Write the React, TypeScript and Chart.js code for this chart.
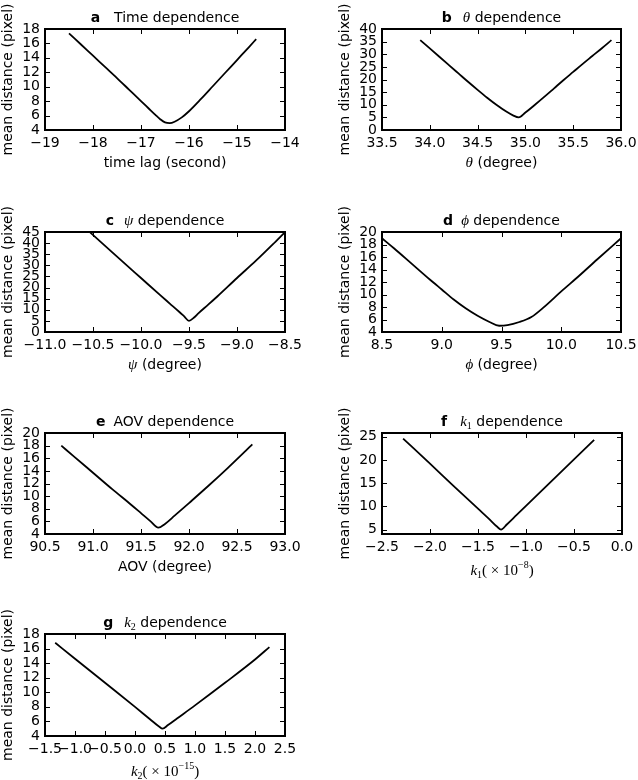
import React, { useEffect, useRef } from "react";
import { Chart, registerables } from "chart.js";

Chart.register(...registerables);

// ---------------- data ----------------
// a: time dependence
const timeLag = [-18.5, -18.25, -18.0, -17.75, -17.5, -17.25, -17.0, -16.85, -16.7, -16.6, -16.5, -16.4, -16.3, -16.15, -16.0, -15.75, -15.5, -15.25, -15.0, -14.75, -14.6];
const timeDist = [17.4, 15.85, 14.3, 12.75, 11.2, 9.6, 8.0, 7.05, 6.1, 5.5, 5.05, 4.95, 5.15, 5.75, 6.6, 8.3, 10.1, 11.9, 13.7, 15.5, 16.6];
const timeTicksX = [-19, -18, -17, -16, -15, -14];
const timeTicksY = [4, 6, 8, 10, 12, 14, 16, 18];

// b: theta dependence
const thetaDeg = [33.9, 34.0, 34.1, 34.2, 34.3, 34.4, 34.5, 34.6, 34.7, 34.8, 34.87, 34.93, 35.0, 35.1, 35.2, 35.3, 35.4, 35.5, 35.6, 35.7, 35.8, 35.9];
const thetaDist = [35.6, 32.3, 29.0, 25.7, 22.4, 19.1, 15.9, 12.8, 9.9, 7.3, 5.8, 5.0, 6.9, 10.0, 13.2, 16.5, 19.8, 23.0, 26.2, 29.3, 32.4, 35.6];
const thetaTicksX = [33.5, 34.0, 34.5, 35.0, 35.5, 36.0];
const thetaTicksY = [0, 5, 10, 15, 20, 25, 30, 35, 40];

// c: psi dependence
const psiDeg = [-10.53, -10.4, -10.2, -10.0, -9.8, -9.7, -9.6, -9.55, -9.5, -9.45, -9.4, -9.3, -9.2, -9.0, -8.8, -8.6, -8.5];
const psiDist = [44.8, 39.8, 32.0, 24.3, 16.6, 12.8, 9.0, 7.0, 5.0, 6.4, 8.5, 12.3, 16.2, 24.3, 32.2, 40.6, 44.9];
const psiTicksX = [-11.0, -10.5, -10.0, -9.5, -9.0, -8.5];
const psiTicksY = [0, 5, 10, 15, 20, 25, 30, 35, 40, 45];

// d: phi dependence
const phiDeg = [8.5, 8.6, 8.75, 8.9, 9.0, 9.1, 9.2, 9.3, 9.4, 9.48, 9.55, 9.65, 9.75, 9.85, 10.0, 10.15, 10.3, 10.5];
const phiDist = [19.0, 17.4, 14.9, 12.4, 10.8, 9.2, 7.8, 6.6, 5.6, 5.0, 5.1, 5.6, 6.4, 7.9, 10.5, 13.0, 15.6, 19.0];
const phiTicksX = [8.5, 9.0, 9.5, 10.0, 10.5];
const phiTicksY = [4, 6, 8, 10, 12, 14, 16, 18, 20];

// e: AOV dependence
const aovDeg = [90.67, 90.8, 91.0, 91.2, 91.4, 91.5, 91.6, 91.68, 91.75, 91.85, 92.0, 92.2, 92.4, 92.66];
const aovDist = [18.0, 16.3, 13.7, 11.1, 8.6, 7.3, 6.0, 5.0, 5.6, 6.9, 8.9, 11.6, 14.4, 18.2];
const aovTicksX = [90.5, 91.0, 91.5, 92.0, 92.5, 93.0];
const aovTicksY = [4, 6, 8, 10, 12, 14, 16, 18, 20];

// f: k1 dependence
const k1Val = [-2.28, -2.0, -1.75, -1.5, -1.38, -1.3, -1.26, -1.2, -1.1, -1.0, -0.75, -0.5, -0.29];
const k1Dist = [24.6, 19.2, 14.3, 9.5, 7.2, 5.6, 5.0, 6.1, 8.1, 10.1, 15.1, 20.1, 24.3];
const k1TicksX = [-2.5, -2.0, -1.5, -1.0, -0.5, 0.0];
const k1TicksY = [5, 10, 15, 20, 25];

// g: k2 dependence
const k2Val = [-1.33, -1.0, -0.5, 0.0, 0.25, 0.4, 0.46, 0.55, 0.7, 1.0, 1.5, 2.0, 2.24];
const k2Dist = [16.8, 14.6, 11.3, 8.0, 6.3, 5.3, 5.0, 5.5, 6.4, 8.2, 11.3, 14.5, 16.2];
const k2TicksX = [-1.5, -1.0, -0.5, 0.0, 0.5, 1.0, 1.5, 2.0, 2.5];
const k2TicksY = [4, 6, 8, 10, 12, 14, 16, 18];

const yAxisLabel = "mean distance (pixel)";

// ---------------- styling ----------------
type Seg = { t: string; font: string; dy?: number; gap?: number };
const SANS = (s = 14) => `normal ${s}px "DejaVu Sans"`;
const BOLD = (s = 14) => `bold ${s}px "DejaVu Sans"`;
const MATH = (s = 15) => `italic ${s}px "Liberation Serif"`;
const MATHR = (s = 15) => `normal ${s}px "Liberation Serif"`;

const YW = 40; // y axis box width
const XH = 20; // x axis box height
const TICK_LEN = 5;

type Panel = {
  cell: { left: number; top: number; w: number; h: number };
  plot: { l: number; t: number; r: number; b: number };
  xs: number[];
  ys: number[];
  xMin: number; xMax: number; yMin: number; yMax: number;
  xTicks: number[]; yTicks: number[];
  xDec: number;
  title: Seg[];
  xLabel: Seg[];
  xLabelBase: number;
};

const fmt = (v: number, dec: number) => {
  const s = Math.abs(v) < 1e-9 ? (0).toFixed(dec) : v.toFixed(dec);
  return s.replace("-", "\u2212");
};

const panels: Panel[] = [
  {
    cell: { left: 0, top: 0, w: 319, h: 200 },
    plot: { l: 45, t: 29, r: 285, b: 130 },
    xs: timeLag, ys: timeDist, xMin: -19, xMax: -14, yMin: 4, yMax: 18,
    xTicks: timeTicksX, yTicks: timeTicksY, xDec: 0,
    title: [{ t: "a", font: BOLD() }, { t: "Time dependence", font: SANS(), gap: 14 }],
    xLabel: [{ t: "time lag (second)", font: SANS() }],
    xLabelBase: 37,
  },
  {
    cell: { left: 319, top: 0, w: 319, h: 200 },
    plot: { l: 382, t: 29, r: 621, b: 130 },
    xs: thetaDeg, ys: thetaDist, xMin: 33.5, xMax: 36.0, yMin: 0, yMax: 40,
    xTicks: thetaTicksX, yTicks: thetaTicksY, xDec: 1,
    title: [{ t: "b", font: BOLD() }, { t: "\u03b8", font: MATH(), gap: 11 }, { t: " dependence", font: SANS() }],
    xLabel: [{ t: "\u03b8", font: MATH() }, { t: " (degree)", font: SANS() }],
    xLabelBase: 37,
  },
  {
    cell: { left: 0, top: 200, w: 319, h: 200 },
    plot: { l: 45, t: 232, r: 285, b: 332 },
    xs: psiDeg, ys: psiDist, xMin: -11.0, xMax: -8.5, yMin: 0, yMax: 45,
    xTicks: psiTicksX, yTicks: psiTicksY, xDec: 1,
    title: [{ t: "c", font: BOLD() }, { t: "\u03c8", font: MATH(), gap: 10 }, { t: " dependence", font: SANS() }],
    xLabel: [{ t: "\u03c8", font: MATH() }, { t: " (degree)", font: SANS() }],
    xLabelBase: 37,
  },
  {
    cell: { left: 319, top: 200, w: 319, h: 200 },
    plot: { l: 382, t: 232, r: 621, b: 332 },
    xs: phiDeg, ys: phiDist, xMin: 8.5, xMax: 10.5, yMin: 4, yMax: 20,
    xTicks: phiTicksX, yTicks: phiTicksY, xDec: 1,
    title: [{ t: "d", font: BOLD() }, { t: "\u03d5", font: MATH(), gap: 8 }, { t: " dependence", font: SANS() }],
    xLabel: [{ t: "\u03d5", font: MATH() }, { t: " (degree)", font: SANS() }],
    xLabelBase: 37,
  },
  {
    cell: { left: 0, top: 400, w: 319, h: 200 },
    plot: { l: 45, t: 433, r: 285, b: 534 },
    xs: aovDeg, ys: aovDist, xMin: 90.5, xMax: 93.0, yMin: 4, yMax: 20,
    xTicks: aovTicksX, yTicks: aovTicksY, xDec: 1,
    title: [{ t: "e", font: BOLD() }, { t: "AOV dependence", font: SANS(), gap: 8 }],
    xLabel: [{ t: "AOV (degree)", font: SANS() }],
    xLabelBase: 37,
  },
  {
    cell: { left: 319, top: 400, w: 319, h: 200 },
    plot: { l: 382, t: 433, r: 622, b: 534 },
    xs: k1Val, ys: k1Dist, xMin: -2.5, xMax: 0.0, yMin: 4.05, yMax: 25.8,
    xTicks: k1TicksX, yTicks: k1TicksY, xDec: 1,
    title: [
      { t: "f", font: BOLD() },
      { t: "k", font: MATH(), gap: 13 },
      { t: "1", font: MATHR(10), dy: 3 },
      { t: " dependence", font: SANS() },
    ],
    xLabel: [
      { t: "k", font: MATH() },
      { t: "1", font: MATHR(10), dy: 3 },
      { t: "( \u00d7 10", font: MATHR() },
      { t: "\u22128", font: MATHR(10), dy: -7 },
      { t: ")", font: MATHR() },
    ],
    xLabelBase: 41,
  },
  {
    cell: { left: 0, top: 600, w: 319, h: 180 },
    plot: { l: 45, t: 634, r: 285, b: 736 },
    xs: k2Val, ys: k2Dist, xMin: -1.5, xMax: 2.5, yMin: 4, yMax: 18,
    xTicks: k2TicksX, yTicks: k2TicksY, xDec: 1,
    title: [
      { t: "g", font: BOLD() },
      { t: "k", font: MATH(), gap: 11 },
      { t: "2", font: MATHR(10), dy: 3 },
      { t: " dependence", font: SANS() },
    ],
    xLabel: [
      { t: "k", font: MATH() },
      { t: "2", font: MATHR(10), dy: 3 },
      { t: "( \u00d7 10", font: MATHR() },
      { t: "\u221215", font: MATHR(10), dy: -7 },
      { t: ")", font: MATHR() },
    ],
    xLabelBase: 40,
  },
];

function drawSegs(ctx: CanvasRenderingContext2D, segs: Seg[], cx: number, base: number) {
  let total = 0;
  const widths = segs.map((s) => {
    ctx.font = s.font;
    const w = ctx.measureText(s.t).width;
    total += w + (s.gap || 0);
    return w;
  });
  let x = cx - total / 2;
  ctx.textAlign = "left";
  ctx.textBaseline = "alphabetic";
  segs.forEach((s, i) => {
    x += s.gap || 0;
    ctx.font = s.font;
    ctx.fillText(s.t, x, base + (s.dy || 0));
    x += widths[i];
  });
}

function makeDeco(p: Panel) {
  return {
    id: "mplDeco",
    afterDraw(chart: any) {
      const ctx: CanvasRenderingContext2D = chart.ctx;
      const ca = chart.chartArea;
      const xs = chart.scales.x;
      const ys = chart.scales.y;
      ctx.save();
      ctx.strokeStyle = "#000";
      ctx.fillStyle = "#000";
      ctx.lineWidth = 1;
      ctx.beginPath();
      for (const t of xs.ticks) {
        const px = Math.round(xs.getPixelForValue(t.value)) + 0.5;
        ctx.moveTo(px, ca.bottom);
        ctx.lineTo(px, ca.bottom - TICK_LEN);
        ctx.moveTo(px, ca.top);
        ctx.lineTo(px, ca.top + TICK_LEN);
      }
      for (const t of ys.ticks) {
        const py = Math.round(ys.getPixelForValue(t.value)) + 0.5;
        ctx.moveTo(ca.left, py);
        ctx.lineTo(ca.left + TICK_LEN, py);
        ctx.moveTo(ca.right, py);
        ctx.lineTo(ca.right - TICK_LEN, py);
      }
      ctx.stroke();
      ctx.lineWidth = 2;
      ctx.strokeRect(ca.left, ca.top, ca.right - ca.left, ca.bottom - ca.top);

      const cx = (ca.left + ca.right) / 2;
      drawSegs(ctx, p.title, cx, ca.top - 7);
      drawSegs(ctx, p.xLabel, cx, ca.bottom + p.xLabelBase);

      ctx.save();
      ctx.translate(ca.left - 33, (ca.top + ca.bottom) / 2);
      ctx.rotate(-Math.PI / 2);
      ctx.font = SANS();
      ctx.textAlign = "center";
      ctx.textBaseline = "alphabetic";
      ctx.fillText(yAxisLabel, 0, 0);
      ctx.restore();
      ctx.restore();
    },
  };
}

function buildChart(canvas: HTMLCanvasElement, p: Panel) {
  const { cell, plot } = p;
  const padding = {
    left: plot.l - cell.left - YW,
    top: plot.t - cell.top,
    right: cell.left + cell.w - plot.r,
    bottom: cell.top + cell.h - plot.b - XH,
  };
  const tickFont = { family: "DejaVu Sans", size: 14 };
  return new Chart(canvas, {
    type: "scatter",
    data: {
      datasets: [
        {
          data: p.xs.map((x, i) => ({ x, y: p.ys[i] })),
          showLine: true,
          borderColor: "#000",
          borderWidth: 1.8,
          pointRadius: 0,
          cubicInterpolationMode: "monotone",
          fill: false,
        } as any,
      ],
    },
    options: {
      animation: false,
      responsive: false,
      maintainAspectRatio: false,
      events: [],
      layout: { padding },
      plugins: {
        legend: { display: false },
        tooltip: { enabled: false },
        title: { display: false },
      },
      scales: {
        x: {
          type: "linear",
          min: p.xMin,
          max: p.xMax,
          grid: { display: false, drawTicks: false },
          border: { display: false },
          ticks: {
            color: "#000",
            font: tickFont,
            padding: 5,
            autoSkip: false,
            maxRotation: 0,
            minRotation: 0,
            callback: (v: any) => fmt(Number(v), p.xDec),
          },
          afterBuildTicks: (s: any) => {
            s.ticks = p.xTicks.map((v) => ({ value: v }));
          },
          afterFit: (s: any) => {
            s.height = XH;
            s.paddingLeft = 0;
            s.paddingRight = 0;
          },
        },
        y: {
          type: "linear",
          min: p.yMin,
          max: p.yMax,
          grid: { display: false, drawTicks: false },
          border: { display: false },
          ticks: {
            color: "#000",
            font: tickFont,
            padding: 5,
            autoSkip: false,
            callback: (v: any) => fmt(Number(v), 0),
          },
          afterBuildTicks: (s: any) => {
            s.ticks = p.yTicks.map((v) => ({ value: v }));
          },
          afterFit: (s: any) => {
            s.width = YW;
            s.paddingTop = 0;
            s.paddingBottom = 0;
          },
        },
      },
    } as any,
    plugins: [makeDeco(p)],
  });
}

export default function App() {
  const refs = useRef<(HTMLCanvasElement | null)[]>([]);
  useEffect(() => {
    const charts = panels.map((p, i) => buildChart(refs.current[i] as HTMLCanvasElement, p));
    return () => charts.forEach((c) => c.destroy());
  }, []);
  return (
    <div style={{ position: "absolute", left: 0, top: 0, width: 638, height: 780, background: "#fff" }}>
      {panels.map((p, i) => (
        <canvas
          key={i}
          ref={(el) => {
            refs.current[i] = el;
          }}
          width={p.cell.w}
          height={p.cell.h}
          style={{
            position: "absolute",
            left: p.cell.left,
            top: p.cell.top,
            width: p.cell.w,
            height: p.cell.h,
          }}
        />
      ))}
    </div>
  );
}
